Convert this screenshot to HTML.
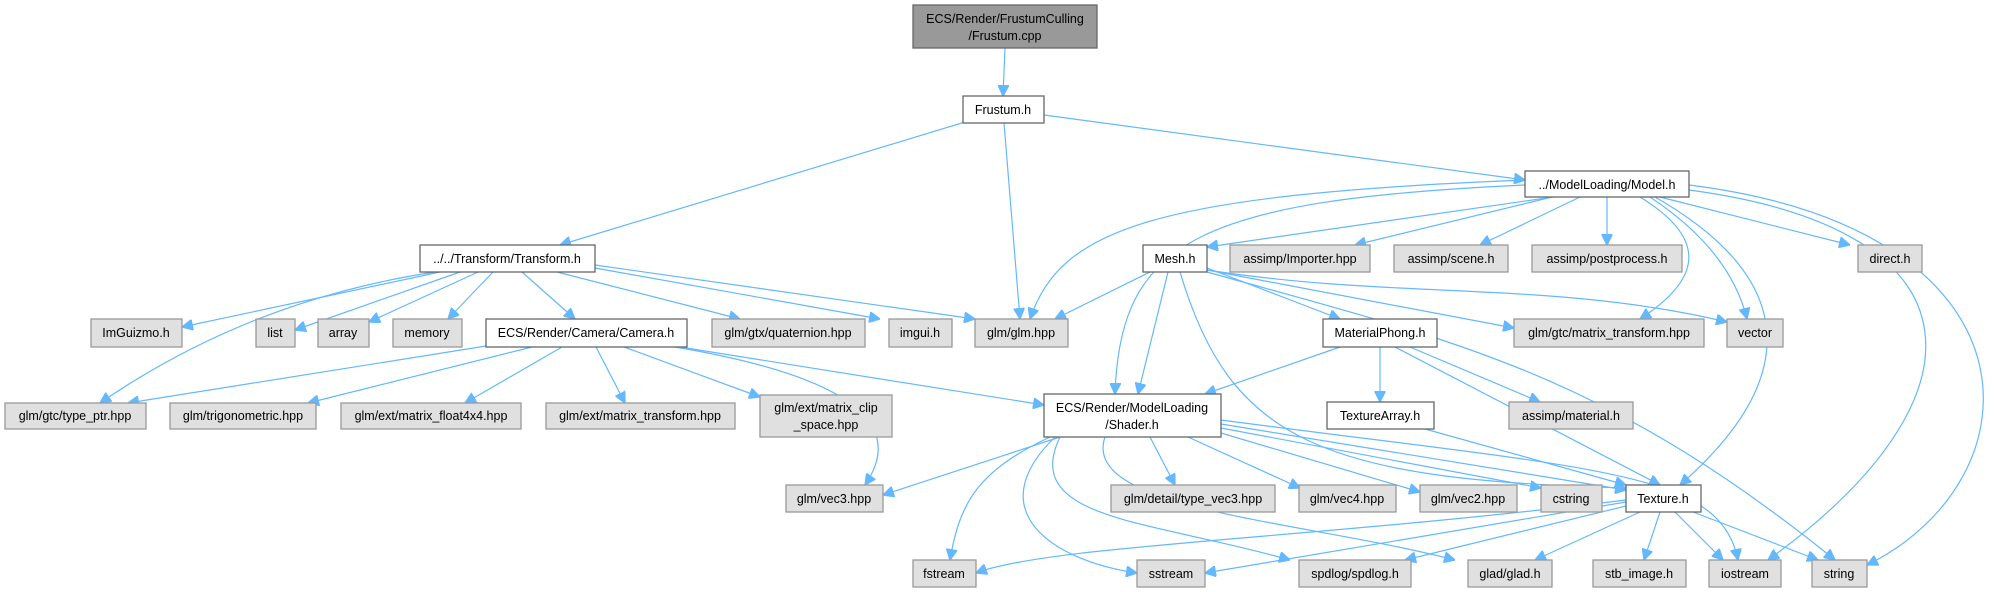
<!DOCTYPE html>
<html><head><meta charset="utf-8"><style>
html,body{margin:0;padding:0;background:#fff}
svg{display:block}
text{font-family:"Liberation Sans",sans-serif;font-size:12.5px;fill:#000;text-anchor:middle}
.g{fill:#e0e0e0;stroke:#999;stroke-width:1.3}
.w{fill:#fff;stroke:#666;stroke-width:1.3}
.t{fill:#999;stroke:#666;stroke-width:1.3}
path{fill:none;stroke:#63b8ff;stroke-width:1.2}
</style></head><body>
<svg width="2016" height="592" viewBox="0 0 2016 592" xmlns="http://www.w3.org/2000/svg">
<defs><marker id="a" viewBox="0 0 10 10" refX="10" refY="5" markerWidth="11" markerHeight="11" markerUnits="userSpaceOnUse" orient="auto"><path d="M0,0 L10,5 L0,10 z" style="fill:#63b8ff;stroke:#63b8ff"/></marker></defs>
<g marker-end="url(#a)">
<path d="M1005,48 L1003,96"/>
<path d="M965,122 L560,245"/>
<path d="M1004,123 L1020,319"/>
<path d="M1044,115 L1525,180"/>
<path d="M440,272 L182,327"/>
<path d="M435,272 Q250,300 100,403"/>
<path d="M460,272 L295,330"/>
<path d="M478,272 L369,322"/>
<path d="M493,272 L448,319"/>
<path d="M522,272 L575,319"/>
<path d="M557,272 L740,319"/>
<path d="M595,268 L880,319"/>
<path d="M595,265 L975,319"/>
<path d="M486,346 L128,403"/>
<path d="M532,347 L308,403"/>
<path d="M562,347 L465,403"/>
<path d="M596,347 L625,403"/>
<path d="M624,347 L760,397"/>
<path d="M675,347 Q930,390 865,485"/>
<path d="M680,347 L1044,405"/>
<path d="M1525,180 C1150,195 1060,230 1030,319"/>
<path d="M1525,185 C1200,200 1120,240 1115,394"/>
<path d="M1553,197 L1207,247"/>
<path d="M1552,197 L1355,245"/>
<path d="M1580,197 L1480,245"/>
<path d="M1607,197 L1607,245"/>
<path d="M1660,197 L1850,245"/>
<path d="M1640,197 C1710,240 1700,280 1640,319"/>
<path d="M1650,197 Q1730,250 1747,319"/>
<path d="M1655,197 C1800,280 1800,380 1680,485"/>
<path d="M1689,190 C1990,230 1990,400 1768,560"/>
<path d="M1689,185 C2050,230 2040,480 1867,565"/>
<path d="M1150,272 L1055,319"/>
<path d="M1168,272 L1138,394"/>
<path d="M1180,272 C1230,440 1320,480 1626,488"/>
<path d="M1207,268 L1340,319"/>
<path d="M1207,270 L1514,328"/>
<path d="M1207,270 C1400,300 1550,280 1727,322"/>
<path d="M1207,272 C1450,340 1600,370 1835,560"/>
<path d="M1340,347 L1205,394"/>
<path d="M1380,347 L1380,402"/>
<path d="M1410,347 L1540,402"/>
<path d="M1395,347 L1660,485"/>
<path d="M1425,429 L1626,485"/>
<path d="M1060,437 L883,495"/>
<path d="M1050,437 C980,470 960,500 950,560"/>
<path d="M1055,437 C980,510 1050,560 1137,573"/>
<path d="M1060,437 C1020,520 1150,520 1290,560"/>
<path d="M1105,437 C1080,510 1300,520 1455,560"/>
<path d="M1150,437 L1175,485"/>
<path d="M1188,437 L1300,488"/>
<path d="M1221,433 L1420,492"/>
<path d="M1221,428 L1541,488"/>
<path d="M1221,424 L1626,490"/>
<path d="M1221,420 C1600,470 1720,470 1738,560"/>
<path d="M1626,500 C1300,540 1050,545 976,573"/>
<path d="M1626,502 L1205,573"/>
<path d="M1630,505 L1405,560"/>
<path d="M1640,512 L1535,560"/>
<path d="M1660,512 L1644,560"/>
<path d="M1675,512 L1723,560"/>
<path d="M1693,512 L1818,560"/>
</g>
<rect class="t" x="913" y="5" width="184" height="43"/><text x="1005" y="23">ECS/Render/FrustumCulling</text><text x="1005" y="40">/Frustum.cpp</text>
<rect class="w" x="963" y="96" width="81" height="27"/><text x="1003" y="114">Frustum.h</text>
<rect class="w" x="420" y="245" width="175" height="27"/><text x="507" y="263">../../Transform/Transform.h</text>
<rect class="w" x="1525" y="171" width="164" height="26"/><text x="1607" y="189">../ModelLoading/Model.h</text>
<rect class="g" x="91" y="319" width="91" height="28"/><text x="136" y="337">ImGuizmo.h</text>
<rect class="g" x="256" y="319" width="39" height="28"/><text x="275" y="337">list</text>
<rect class="g" x="318" y="319" width="51" height="28"/><text x="343" y="337">array</text>
<rect class="g" x="393" y="319" width="69" height="28"/><text x="427" y="337">memory</text>
<rect class="w" x="486" y="319" width="201" height="28"/><text x="586" y="337">ECS/Render/Camera/Camera.h</text>
<rect class="g" x="712" y="319" width="153" height="28"/><text x="788" y="337">glm/gtx/quaternion.hpp</text>
<rect class="g" x="889" y="319" width="63" height="28"/><text x="920" y="337">imgui.h</text>
<rect class="g" x="975" y="319" width="93" height="28"/><text x="1021" y="337">glm/glm.hpp</text>
<rect class="w" x="1143" y="245" width="64" height="27"/><text x="1175" y="263">Mesh.h</text>
<rect class="g" x="1230" y="245" width="140" height="27"/><text x="1300" y="263">assimp/Importer.hpp</text>
<rect class="g" x="1394" y="245" width="114" height="27"/><text x="1451" y="263">assimp/scene.h</text>
<rect class="g" x="1532" y="245" width="150" height="27"/><text x="1607" y="263">assimp/postprocess.h</text>
<rect class="g" x="1858" y="245" width="64" height="27"/><text x="1890" y="263">direct.h</text>
<rect class="w" x="1323" y="319" width="114" height="28"/><text x="1380" y="337">MaterialPhong.h</text>
<rect class="g" x="1514" y="319" width="190" height="28"/><text x="1609" y="337">glm/gtc/matrix_transform.hpp</text>
<rect class="g" x="1727" y="319" width="56" height="28"/><text x="1755" y="337">vector</text>
<rect class="g" x="5" y="403" width="141" height="26"/><text x="75" y="420">glm/gtc/type_ptr.hpp</text>
<rect class="g" x="170" y="403" width="146" height="26"/><text x="243" y="420">glm/trigonometric.hpp</text>
<rect class="g" x="341" y="403" width="180" height="26"/><text x="431" y="420">glm/ext/matrix_float4x4.hpp</text>
<rect class="g" x="546" y="403" width="189" height="26"/><text x="640" y="420">glm/ext/matrix_transform.hpp</text>
<rect class="g" x="760" y="395" width="132" height="42"/><text x="826" y="412">glm/ext/matrix_clip</text><text x="826" y="429">_space.hpp</text>
<rect class="w" x="1044" y="394" width="177" height="43"/><text x="1132" y="412">ECS/Render/ModelLoading</text><text x="1132" y="429">/Shader.h</text>
<rect class="w" x="1327" y="402" width="107" height="27"/><text x="1380" y="420">TextureArray.h</text>
<rect class="g" x="1509" y="402" width="124" height="27"/><text x="1571" y="420">assimp/material.h</text>
<rect class="g" x="786" y="485" width="97" height="27"/><text x="834" y="503">glm/vec3.hpp</text>
<rect class="g" x="1111" y="485" width="164" height="27"/><text x="1193" y="503">glm/detail/type_vec3.hpp</text>
<rect class="g" x="1299" y="485" width="97" height="27"/><text x="1347" y="503">glm/vec4.hpp</text>
<rect class="g" x="1420" y="485" width="97" height="27"/><text x="1468" y="503">glm/vec2.hpp</text>
<rect class="g" x="1541" y="485" width="61" height="27"/><text x="1571" y="503">cstring</text>
<rect class="w" x="1626" y="485" width="75" height="27"/><text x="1663" y="503">Texture.h</text>
<rect class="g" x="913" y="560" width="63" height="27"/><text x="944" y="578">fstream</text>
<rect class="g" x="1137" y="560" width="68" height="27"/><text x="1171" y="578">sstream</text>
<rect class="g" x="1299" y="560" width="112" height="27"/><text x="1355" y="578">spdlog/spdlog.h</text>
<rect class="g" x="1468" y="560" width="84" height="27"/><text x="1510" y="578">glad/glad.h</text>
<rect class="g" x="1593" y="560" width="93" height="27"/><text x="1639" y="578">stb_image.h</text>
<rect class="g" x="1709" y="560" width="72" height="27"/><text x="1745" y="578">iostream</text>
<rect class="g" x="1812" y="560" width="55" height="27"/><text x="1839" y="578">string</text>
</svg>
</body></html>
